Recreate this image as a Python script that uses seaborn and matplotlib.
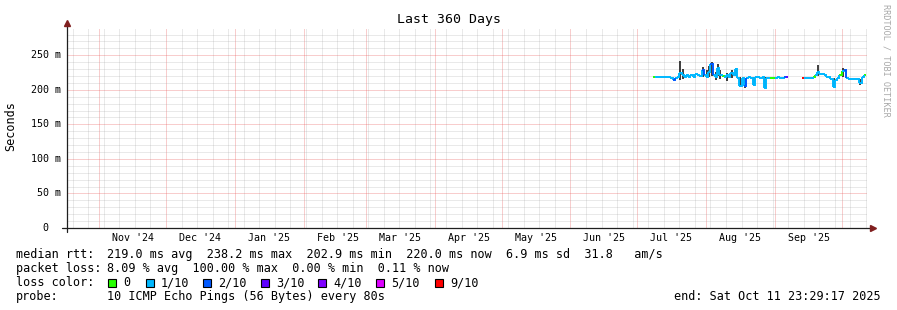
import numpy as np
import pandas as pd
import matplotlib
matplotlib.use("Agg")
import matplotlib.pyplot as plt
import matplotlib.dates as mdates
import matplotlib.transforms as mtransforms
from matplotlib.ticker import MultipleLocator
from matplotlib.patches import Rectangle
import seaborn as sns

# ---------------- data ----------------
title = "Last 360 Days"
y_label = "Seconds"
x_start = "2024-10-17 11:00"
x_end = "2025-10-12 11:00"

month_starts = ["2024-11-01", "2024-12-01", "2025-01-01", "2025-02-01", "2025-03-01",
                "2025-04-01", "2025-05-01", "2025-06-01", "2025-07-01", "2025-08-01",
                "2025-09-01"]
month_labels = ["Nov '24", "Dec '24", "Jan '25", "Feb '25", "Mar '25", "Apr '25",
                "May '25", "Jun '25", "Jul '25", "Aug '25", "Sep '25"]

y_ticks = [0, 50, 100, 150, 200, 250]
y_tick_labels = ["0", "50 m", "100 m", "150 m", "200 m", "250 m"]

# segment 1: daily median rtt (ms) from 2025-07-08
seg1_start = "2025-07-08"
seg1_median = [218, 218, 218, 218, 218, 218, 218, 218, 217, 214,
               217, 219, 224, 221, 218, 221, 219, 222, 219, 223,
               222, 220, 229, 221, 219, 226, 238, 222, 219, 232,
               221, 220, 218, 221, 219, 224, 222, 230, 217, 206,
               217, 205, 217, 218, 217, 207, 218, 218, 217, 218,
               203, 217, 217, 217, 217, 217, 218, 217, 217, 219,
               219]
seg1_loss = [0, 1, 1, 1, 1, 1, 1, 1, 1, 2,
             1, 1, 1, 1, 1, 1, 1, 1, 1, 1,
             1, 1, 2, 1, 1, 1, 2, 1, 1, 1,
             1, 0, 1, 1, 1, 1, 1, 1, 1, 1,
             1, 2, 1, 1, 1, 1, 1, 1, 1, 1,
             1, 1, 1, 0, 0, 1, 1, 1, 1, 2,
             3]

# segment 2: daily median rtt (ms) from 2025-09-13
seg2_start = "2025-09-13"
seg2_median = [217, 217, 217, 217, 217, 218, 222, 226, 223, 223,
               222, 219, 218, 216, 204, 214, 217, 221, 227, 229,
               217, 216, 216, 216, 216, 215, 210, 219, 222]
seg2_loss = [9, 1, 1, 1, 1, 0, 1, 1, 1, 1,
             1, 1, 1, 1, 1, 1, 1, 0, 1, 2,
             1, 1, 1, 1, 1, 1, 1, 1, 0]

# smoke (ping spread) on the spiky days
smoke_dates = ["2025-07-20", "2025-07-21", "2025-07-30", "2025-08-01", "2025-08-02",
               "2025-08-03", "2025-08-05", "2025-08-06", "2025-08-07", "2025-08-10",
               "2025-08-12", "2025-08-14", "2025-08-16", "2025-08-18", "2025-08-22",
               "2025-08-27", "2025-09-20", "2025-09-27", "2025-10-01", "2025-10-09"]
smoke_lo = [214, 216, 219, 217, 218, 220, 214, 220, 216, 213,
            217, 220, 204, 203, 205, 203, 220, 202, 219, 207]
smoke_hi = [242, 230, 233, 228, 235, 240, 226, 237, 228, 224,
            228, 232, 218, 217, 218, 218, 236, 217, 231, 216]

loss_levels = [0, 1, 2, 3, 4, 5, 9]
loss_names = ["0", "1/10", "2/10", "3/10", "4/10", "5/10", "9/10"]
loss_colors = ["#26ff00", "#00b8ff", "#0059ff", "#5e00ff", "#7e00ff", "#dd00ff", "#ff0000"]

stats_rtt = "219.0 ms avg  238.2 ms max  202.9 ms min  220.0 ms now  6.9 ms sd  31.8   am/s"
stats_loss = "8.09 % avg  100.00 % max  0.00 % min  0.11 % now"
probe_text = "10 ICMP Echo Pings (56 Bytes) every 80s"
end_text = "end: Sat Oct 11 23:29:17 2025"
watermark = "RRDTOOL / TOBI OETIKER"

# ---------------- build step table ----------------
half = pd.Timedelta(hours=12)
name_of = dict(zip(loss_levels, loss_names))
palette = dict(zip(loss_names, loss_colors))


def build(start, med, loss, seg):
    dates = pd.date_range(start, periods=len(med), freq="D") + half
    rows = []
    for i, (d, v, l) in enumerate(zip(dates, med, loss)):
        u = f"{seg}-{i}"
        rows.append((d - half, v, name_of[l], u))
        rows.append((d + half, v, name_of[l], u))
        if i + 1 < len(med):
            rows.append((d + half, med[i + 1], name_of[l], u))
    return rows


rows = build(seg1_start, seg1_median, seg1_loss, "a") + build(seg2_start, seg2_median, seg2_loss, "b")
df = pd.DataFrame(rows, columns=["t", "rtt", "loss", "unit"])

# ---------------- figure ----------------
W, H = 897, 310
sns.set_theme(style="white")
plt.rcParams["font.family"] = ["DejaVu Sans Mono", "DejaVu Sans"]

fig = plt.figure(figsize=(W / 100, H / 100), dpi=100, facecolor="white")
ax_l, ax_r, ax_t, ax_b = 67, 867, 28, 228
ax = fig.add_axes([ax_l / W, 1 - ax_b / H, (ax_r - ax_l) / W, (ax_b - ax_t) / H])
ax.set_facecolor("white")
ax.set_xlim(pd.Timestamp(x_start), pd.Timestamp(x_end))
ax.set_ylim(0, 289.5)

ax.xaxis.set_major_locator(mdates.MonthLocator())
ax.xaxis.set_minor_locator(mdates.WeekdayLocator(byweekday=mdates.SU))
ax.yaxis.set_major_locator(MultipleLocator(50))
ax.yaxis.set_minor_locator(MultipleLocator(10))
ax.grid(which="minor", color="#a8a8a8", alpha=0.5, lw=0.72, ls=(0, (1, 1)))
ax.grid(which="major", color="#e85a5a", alpha=0.6, lw=0.72, ls=(0, (1, 1)))
ax.set_axisbelow(True)
ax.tick_params(which="both", length=0, labelbottom=False, labelleft=False)
for s in ax.spines.values():
    s.set_visible(False)

# smoke
ax.vlines(pd.to_datetime(smoke_dates) + half, smoke_lo, smoke_hi, color="#1e1e1e", lw=1.2, zorder=3)

# median line colored by loss
sns.lineplot(data=df, x="t", y="rtt", hue="loss", units="unit", estimator=None, sort=False,
             palette=palette, legend=False, linewidth=1.4, ax=ax, zorder=4,
             solid_capstyle="butt", solid_joinstyle="miter")
ax.set_xlabel("")
ax.set_ylabel("")

# axes lines with arrows
axis_col = "#1f1f1f"
arrow_col = "#801f1f"
ax.plot([-5 / 800, 1.005], [0, 0], color=axis_col, lw=0.9, transform=ax.transAxes, clip_on=False, zorder=5)
ax.plot([0, 0], [-4 / 200, 1.02], color=axis_col, lw=0.9, transform=ax.transAxes, clip_on=False, zorder=5)
ax.plot([1.007], [0], marker=">", ms=4.5, color=arrow_col, mec=arrow_col, transform=ax.transAxes,
        clip_on=False, zorder=6)
ax.plot([0], [1.025], marker="^", ms=4.5, color=arrow_col, mec=arrow_col, transform=ax.transAxes,
        clip_on=False, zorder=6)

# tick labels
ytrans = mtransforms.blended_transform_factory(fig.transFigure, ax.transData)
for v, lab in zip(y_ticks, y_tick_labels):
    xpx = 48.5 if lab == "0" else 60.5
    ax.text(xpx / W, v, lab, transform=ytrans, ha="right", va="center", fontsize=7.2, color="black")
xtrans = mtransforms.blended_transform_factory(ax.transData, fig.transFigure)
for d, lab in zip(month_starts, month_labels):
    xd = pd.Timestamp(d) + pd.Timedelta(days=15.3)
    ax.text(mdates.date2num(xd), 1 - 238 / H, lab, transform=xtrans, ha="center", va="center",
            fontsize=7.2, color="black")


def ftext(x, y, s, **kw):
    kw.setdefault("fontsize", 8.5)
    kw.setdefault("va", "center")
    kw.setdefault("color", "black")
    fig.text(x / W, 1 - y / H, s, **kw)


ftext(448.5, 19, title, ha="center", fontsize=9.5)
ftext(11, 126, y_label, ha="center", rotation=90)
ftext(886, 60, watermark, ha="center", rotation=270, fontsize=6.1, color="#a8a8a8")

ftext(16, 254.5, "median rtt:")
ftext(107, 254.5, stats_rtt)
ftext(16, 268.5, "packet loss:")
ftext(107, 268.5, stats_loss)
ftext(16, 282.5, "loss color:")
box_x = [108, 146, 203, 261, 318, 376, 435]
for bx, name, col in zip(box_x, loss_names, loss_colors):
    fig.patches.append(Rectangle((bx / W, 1 - 286.5 / H), 8 / W, 8 / H, transform=fig.transFigure,
                                 facecolor=col, edgecolor="black", lw=0.8))
    ftext(bx + 15, 282.5, name)
ftext(16, 296.5, "probe:")
ftext(107, 296.5, probe_text)
ftext(881, 296.5, end_text, ha="right")

fig.savefig("out.png", dpi=100, facecolor="white")
